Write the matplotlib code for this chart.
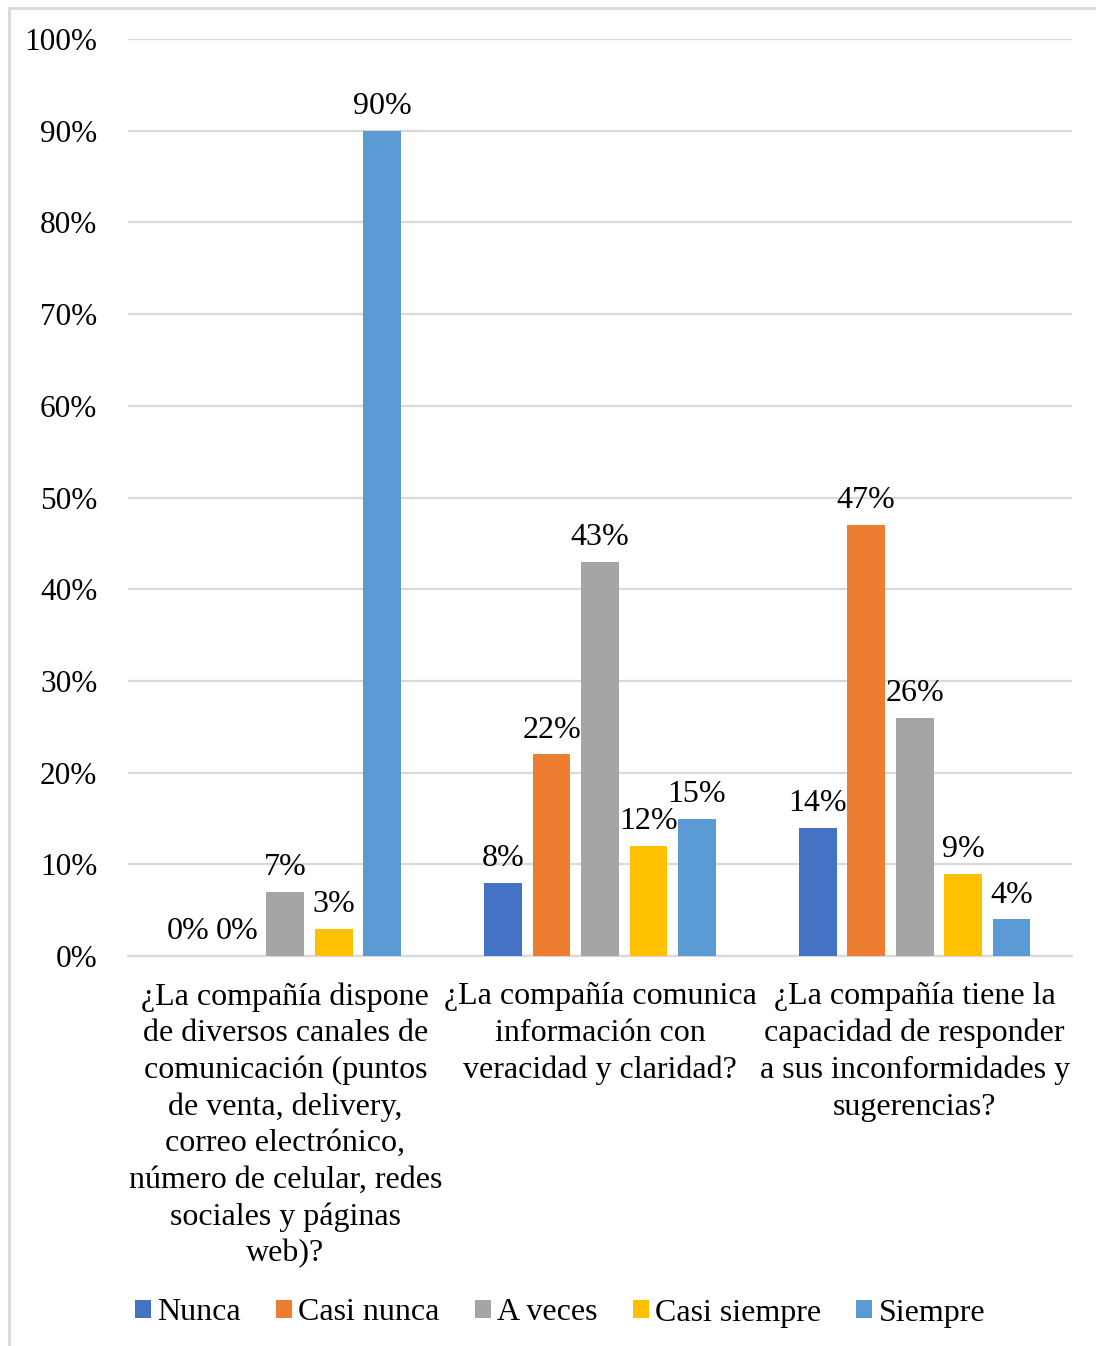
import matplotlib.pyplot as plt
from matplotlib.patches import Rectangle
import numpy as np

plt.rcParams['font.family'] = ['Liberation Serif', 'DejaVu Serif']

# Survey questions and answer shares (%)
categories = [
    "¿La compañía dispone\nde diversos canales de\ncomunicación (puntos\nde venta, delivery,\ncorreo electrónico,\nnúmero de celular, redes\nsociales y páginas\nweb)?",
    "¿La compañía comunica\ninformación con\nveracidad y claridad?",
    "¿La compañía tiene la\ncapacidad de responder\na sus inconformidades y\nsugerencias?",
]
series_names = ["Nunca", "Casi nunca", "A veces", "Casi siempre", "Siempre"]
nunca = [0, 8, 14]
casi_nunca = [0, 22, 47]
a_veces = [7, 43, 26]
casi_siempre = [3, 12, 9]
siempre = [90, 15, 4]
colors = ["#4472C4", "#ED7D31", "#A5A5A5", "#FFC000", "#5B9BD5"]

values = [nunca, casi_nunca, a_veces, casi_siempre, siempre]

fig = plt.figure(figsize=(10.96, 13.46), dpi=100)
ax = fig.add_axes([0.1168, 0.2897, 0.8613, 0.6813])

x = np.arange(len(categories))
slot = 0.154
width = 0.12
for i, (name, vals, c) in enumerate(zip(series_names, values, colors)):
    pos = x + (i - 2) * slot
    bars = ax.bar(pos, vals, width, color=c, label=name, zorder=3)
    for b, v in zip(bars, vals):
        ax.annotate(f"{v}%", (b.get_x() + b.get_width() / 2, v),
                    xytext=(0, 7), textcoords="offset points",
                    ha="center", va="bottom", fontsize=23)

ax.set_xlim(-0.5, 2.5)
ax.set_ylim(0, 100)
ax.set_yticks(range(0, 101, 10))
ax.set_yticklabels([f"{t}%" for t in range(0, 101, 10)], fontsize=22.5)
ax.set_xticks(x)
ax.set_xticklabels(categories, fontsize=23, linespacing=1.33, va="top")
ax.tick_params(axis="y", length=0, pad=22)
ax.tick_params(axis="x", length=0, pad=19)
ax.grid(axis="y", color="#d9d9d9", linewidth=1.6, zorder=0)
for s in ["top", "right", "left"]:
    ax.spines[s].set_visible(False)
ax.spines["bottom"].set_color("#d9d9d9")
ax.spines["bottom"].set_linewidth(1.6)

leg = fig.legend(loc="center", bbox_to_anchor=(0.511, 1 - 1313 / 1346), ncol=5,
                 frameon=False, fontsize=23, handlelength=0.5, handleheight=0.5,
                 handletextpad=0.2, columnspacing=1.1)

# light frame around the whole chart
fig.patches.append(Rectangle((9 / 1096, -0.01), 1.1, 1 - 8 / 1346 + 0.01,
                             transform=fig.transFigure, fill=False,
                             edgecolor="#d9d9d9", linewidth=2))

fig.savefig("out.png", dpi=100)
